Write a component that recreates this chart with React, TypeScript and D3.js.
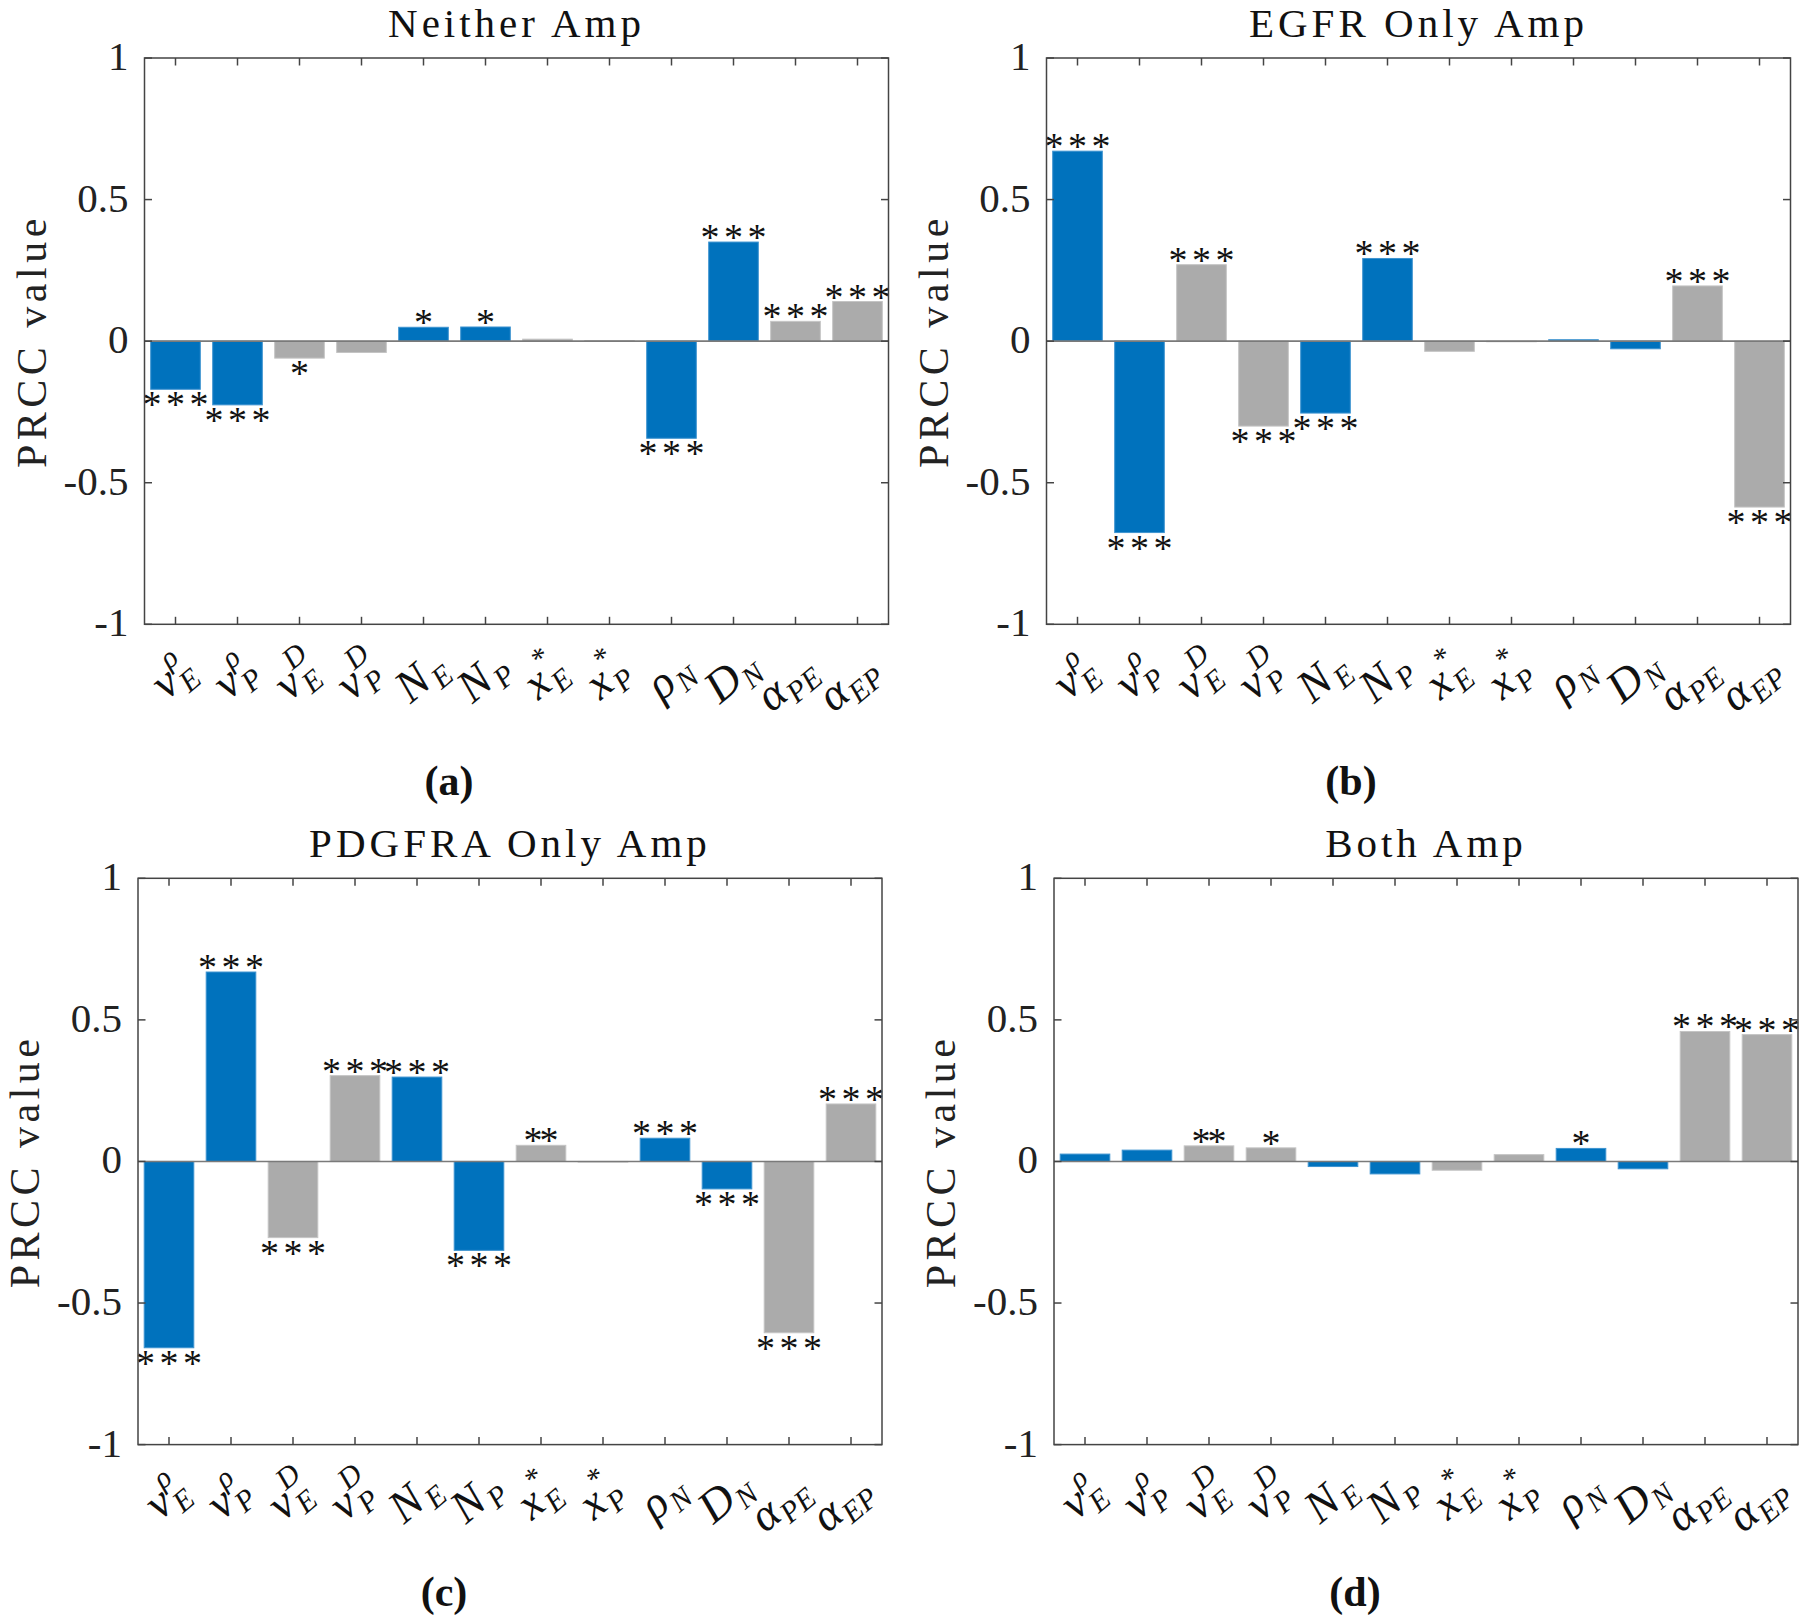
import React from 'react';
import * as d3 from 'd3';

// ---------- data ----------
const paramMain = ['ν', 'ν', 'ν', 'ν', 'N', 'N', 'x', 'x', 'ρ', 'D', 'α', 'α'];
const paramSup = ['ρ', 'ρ', 'D', 'D', '', '', '*', '*', '', '', '', ''];
const paramSub = ['E', 'P', 'E', 'P', 'E', 'P', 'E', 'P', 'N', 'N', 'PE', 'EP'];
const paramGroup = ['blue', 'blue', 'gray', 'gray', 'blue', 'blue', 'gray', 'gray', 'blue', 'blue', 'gray', 'gray'];

const titles = ['Neither Amp', 'EGFR Only Amp', 'PDGFRA Only Amp', 'Both Amp'];
const tags = ['(a)', '(b)', '(c)', '(d)'];

const neitherValues = [-0.17, -0.225, -0.06, -0.04, 0.049, 0.05, 0.007, 0.002, -0.343, 0.35, 0.07, 0.14];
const neitherStars = [3, 3, 1, 0, 1, 1, 0, 0, 3, 3, 3, 3];
const egfrValues = [0.671, -0.676, 0.27, -0.3, -0.254, 0.292, -0.036, -0.002, 0.005, -0.027, 0.195, -0.586];
const egfrStars = [3, 3, 3, 3, 3, 3, 0, 0, 0, 0, 3, 3];
const pdgfraValues = [-0.658, 0.669, -0.269, 0.303, 0.298, -0.314, 0.057, 0.0, 0.082, -0.097, -0.605, 0.203];
const pdgfraStars = [3, 3, 3, 3, 3, 3, 2, 0, 3, 3, 3, 3];
const bothValues = [0.026, 0.04, 0.055, 0.048, -0.018, -0.044, -0.031, 0.024, 0.046, -0.026, 0.459, 0.448];
const bothStars = [0, 0, 2, 1, 0, 0, 0, 0, 1, 0, 3, 3];

const yTicks = [-1, -0.5, 0, 0.5, 1];
const yTickLabels = ['-1', '-0.5', '0', '0.5', '1'];
const yLabel = 'PRCC value';

// ---------- layout ----------
const W = 1800;
const H = 1621;
const AX_W = 744;
const AX_H = 566.3;
const panels = [
  { values: neitherValues, stars: neitherStars, left: 144.5, top: 58, tagX: 449, tagY: 795 },
  { values: egfrValues, stars: egfrStars, left: 1046.5, top: 58, tagX: 1351, tagY: 795 },
  { values: pdgfraValues, stars: pdgfraStars, left: 138, top: 878.3, tagX: 444, tagY: 1606 },
  { values: bothValues, stars: bothStars, left: 1054, top: 878.3, tagX: 1355, tagY: 1606 },
];

const BLUE = '#0072BD';
const BLUE_EDGE = '#3d93d0';
const GRAY = '#ABABAB';
const GRAY_EDGE = '#c4c4c4';
const AXIS = '#444444';
const SERIF = '"Liberation Serif", "DejaVu Serif", serif';

const MAIN_FS = 46;
const SUB_FS = 30;
const mainW: Record<string, number> = { 'ν': 21, N: 32, x: 21, 'ρ': 23, D: 33, 'α': 24 };

function XLabel({ i, x, y }: { i: number; x: number; y: number }) {
  const mw = mainW[paramMain[i]] ?? 22;
  const subW = paramSub[i].length * 18;
  const supW = paramSup[i] ? (paramSup[i] === 'D' ? 21 : 15) : 0;
  const total = mw + 1 + Math.max(subW, supW);
  const x0 = -total / 2 - (paramSub[i].length > 1 ? 9 : 0);
  return (
    <g transform={`translate(${x},${y}) rotate(-40)`} fontFamily={SERIF} fill="#111">
      <text x={x0} y={10} fontSize={MAIN_FS} fontStyle="italic">{paramMain[i]}</text>
      {paramSup[i] && (
        <text x={x0 + mw + 1} y={-12} fontSize={SUB_FS} fontStyle={paramSup[i] === '*' ? 'normal' : 'italic'}>
          {paramSup[i]}
        </text>
      )}
      <text x={x0 + mw + 1} y={19} fontSize={SUB_FS} fontStyle="italic">{paramSub[i]}</text>
    </g>
  );
}

function Panel({ idx }: { idx: number }) {
  const p = panels[idx];
  const left = p.left;
  const right = p.left + AX_W;
  const top = p.top;
  const bottom = p.top + AX_H;
  const cats = d3.range(1, 13);
  const x = d3.scaleLinear().domain([0.5, 12.5]).range([left, right]);
  const y = d3.scaleLinear().domain([-1, 1]).range([bottom, top]);
  const bw = x(1.4) - x(0.6);
  const tick = 7.5;

  const starOffsets = (n: number) => (n === 3 ? [-23.6, 0, 23.6] : n === 2 ? [-8, 8] : n === 1 ? [0] : []);

  return (
    <g>
      {/* bars */}
      {p.values.map((v, i) => {
        const y0 = y(0);
        const y1 = y(v);
        const isBlue = paramGroup[i] === 'blue';
        return (
          <rect
            key={`b${i}`}
            x={x(i + 1) - bw / 2}
            y={Math.min(y0, y1)}
            width={bw}
            height={Math.max(Math.abs(y1 - y0), 0.6)}
            fill={isBlue ? BLUE : GRAY}
            stroke={isBlue ? BLUE_EDGE : GRAY_EDGE}
            strokeWidth={1}
          />
        );
      })}
      {/* baseline */}
      <line x1={left} x2={right} y1={y(0)} y2={y(0)} stroke="#7a7a7a" strokeWidth={1.6} />
      {/* stars */}
      {p.values.map((v, i) => {
        const n = p.stars[i];
        const cy = v >= 0 ? y(v) - 10 : y(v) + 10;
        return starOffsets(n).map((o, k) => (
          <text
            key={`s${i}-${k}`}
            x={x(i + 1) + o}
            y={cy + 18}
            fontSize={38}
            fontFamily={SERIF}
            textAnchor="middle"
            fill="#111"
          >
            *
          </text>
        ));
      })}
      {/* box */}
      <rect x={left} y={top} width={AX_W} height={AX_H} fill="none" stroke={AXIS} strokeWidth={1.5} />
      {/* x ticks (inward, bottom and top) */}
      {cats.map((c) => (
        <g key={`xt${c}`} stroke={AXIS} strokeWidth={1.5}>
          <line x1={x(c)} x2={x(c)} y1={bottom} y2={bottom - tick} />
          <line x1={x(c)} x2={x(c)} y1={top} y2={top + tick} />
        </g>
      ))}
      {/* y ticks (inward, left and right) */}
      {yTicks.map((t) => (
        <g key={`yt${t}`} stroke={AXIS} strokeWidth={1.5}>
          <line x1={left} x2={left + tick} y1={y(t)} y2={y(t)} />
          <line x1={right} x2={right - tick} y1={y(t)} y2={y(t)} />
        </g>
      ))}
      {/* y tick labels */}
      {yTicks.map((t, k) => (
        <text
          key={`yl${t}`}
          x={left - 16}
          y={y(t) + 12}
          fontSize={41}
          fontFamily={SERIF}
          textAnchor="end"
          fill="#222"
        >
          {yTickLabels[k]}
        </text>
      ))}
      {/* x tick labels */}
      {cats.map((c, i) => (
        <XLabel key={`xl${c}`} i={i} x={x(c)} y={bottom + 56} />
      ))}
      {/* title */}
      <text
        x={(left + right) / 2}
        y={top - 21}
        fontSize={41}
        fontFamily={SERIF}
        textAnchor="middle"
        letterSpacing={4}
        fill="#111"
      >
        {titles[idx]}
      </text>
      {/* y label */}
      <text
        transform={`translate(${left - 99},${(top + bottom) / 2}) rotate(-90)`}
        fontSize={42}
        fontFamily={SERIF}
        textAnchor="middle"
        letterSpacing={4.5}
        fill="#222"
      >
        {yLabel}
      </text>
      {/* panel tag */}
      <text x={p.tagX} y={p.tagY} fontSize={42} fontWeight="bold" fontFamily={SERIF} textAnchor="middle" fill="#111">
        {tags[idx]}
      </text>
    </g>
  );
}

export default function App() {
  return (
    <div style={{ position: 'absolute', left: 0, top: 0, width: W, height: H, background: '#fff' }}>
      <svg width={W} height={H} viewBox={`0 0 ${W} ${H}`} style={{ display: 'block' }}>
        <rect x={0} y={0} width={W} height={H} fill="#fff" />
        {panels.map((_, i) => (
          <Panel key={i} idx={i} />
        ))}
      </svg>
    </div>
  );
}
